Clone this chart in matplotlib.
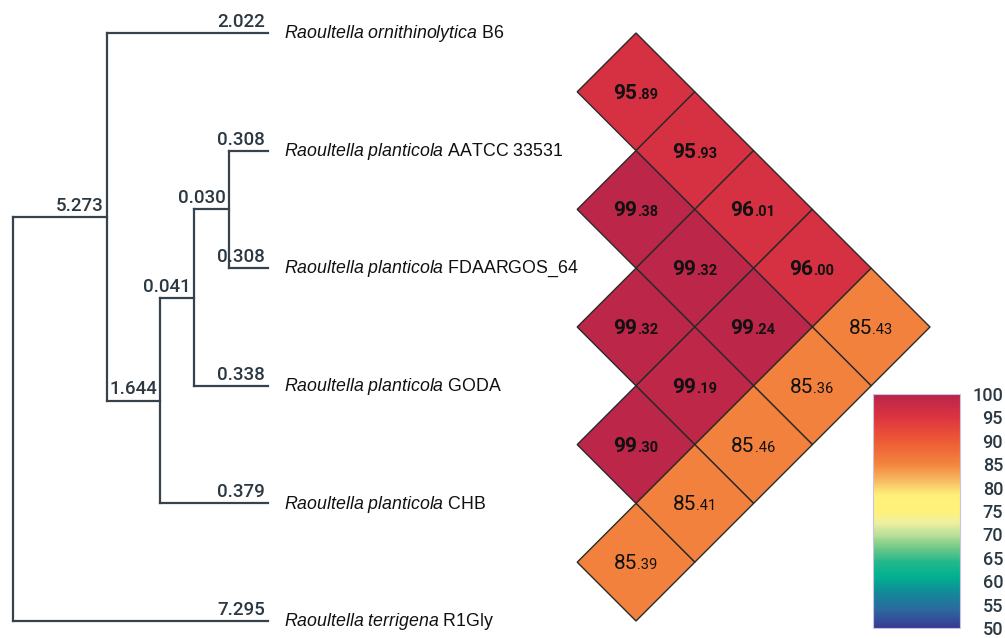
import numpy as np
import matplotlib
matplotlib.use("Agg")
import matplotlib.pyplot as plt
from matplotlib.patches import Polygon
from matplotlib.colors import LinearSegmentedColormap, Normalize
from matplotlib.cm import ScalarMappable

# taxa, top to bottom
species = ["Raoultella ornithinolytica", "Raoultella planticola", "Raoultella planticola",
           "Raoultella planticola", "Raoultella planticola", "Raoultella terrigena"]
strains = ["B6", "AATCC 33531", "FDAARGOS_64", "GODA", "CHB", "R1Gly"]

# tree topology (internal node -> children), tips are t0..t5
clades = {
    "root": ["n1", "t5"],
    "n1": ["t0", "n2"],
    "n2": ["n3", "t4"],
    "n3": ["n4", "t3"],
    "n4": ["t1", "t2"],
}
branch_len = {"n1": 5.273, "t0": 2.022, "n2": 1.644, "n3": 0.041, "n4": 0.030,
              "t1": 0.308, "t2": 0.308, "t3": 0.338, "t4": 0.379, "t5": 7.295}

# ANI upper triangle: row i = taxon i vs taxa i+1..5
ani = [
    [95.89, 95.93, 96.01, 96.00, 85.43],
    [99.38, 99.32, 99.24, 85.36],
    [99.32, 99.19, 85.46],
    [99.30, 85.41],
    [85.39],
]
cbar_ticks = [50, 55, 60, 65, 70, 75, 80, 85, 90, 95, 100]

# colormap
cmap_vals = [50, 54, 57.5, 61, 64, 67.5, 70, 72.5, 75, 78.5, 81, 85, 90, 95, 100]
cmap_cols = ["#3b3a94", "#2b6a9e", "#12899a", "#00b28f", "#22b78c", "#7acb88",
             "#bde09a", "#eef0a0", "#fff27a", "#fff07a", "#f9c266", "#f2853e",
             "#ee5a35", "#dd3440", "#b8244a"]
cmap = LinearSegmentedColormap.from_list(
    "ani", [((v - 50) / 50, c) for v, c in zip(cmap_vals, cmap_cols)])
norm = Normalize(50, 100)

plt.rcParams["mathtext.fontset"] = "custom"
plt.rcParams["mathtext.it"] = "Liberation Sans:italic"
plt.rcParams["mathtext.rm"] = "Liberation Sans"

fig = plt.figure(figsize=(10.05, 6.38), dpi=100)
ax = fig.add_axes([0, 0, 1, 1])
ax.set_xlim(0, 1005)
ax.set_ylim(638, 0)
ax.axis("off")

# layout (pixels)
y_top, dy = 33, 117.6
tip_x = 268
node_x = {"root": 13, "n1": 107, "n2": 160, "n3": 194, "n4": 229}
line_col = "#36434d"
num_col = "#2b3842"

pos = {}
for i in range(len(strains)):
    pos["t%d" % i] = (tip_x, y_top + i * dy)


def place(node):
    if node in pos:
        return pos[node][1]
    ys = [place(c) for c in clades[node]]
    pos[node] = (node_x[node], (min(ys) + max(ys)) / 2)
    return pos[node][1]


place("root")

for node, kids in clades.items():
    x, _ = pos[node]
    ys = [pos[k][1] for k in kids]
    ax.plot([x, x], [min(ys), max(ys)], color=line_col, lw=1.6, solid_capstyle="projecting")
    for k in kids:
        kx, ky = pos[k]
        ax.plot([x, kx], [ky, ky], color=line_col, lw=1.6, solid_capstyle="projecting")
        ax.text(kx - 3, ky - 2, "%.3f" % branch_len[k], ha="right", va="bottom",
                fontsize=13.5, family="Roboto", fontweight="medium", color=num_col)

# tip labels
for i, (sp, st) in enumerate(zip(species, strains)):
    sp_tex = sp.replace(" ", r"\ ")
    ax.text(284, pos["t%d" % i][1] + 1, r"$\mathit{%s}$ %s" % (sp_tex, st),
            ha="left", va="center", fontsize=12.8, family="Liberation Sans", color="#111111")

# rotated triangular heatmap
h = dy / 2
x0 = 636
for i, row in enumerate(ani):
    for k, v in enumerate(row):
        j = i + k + 1
        cx = x0 + k * h
        cy = (pos["t%d" % i][1] + pos["t%d" % j][1]) / 2
        ax.add_patch(Polygon([(cx - h, cy), (cx, cy - h), (cx + h, cy), (cx, cy + h)],
                             closed=True, facecolor=cmap(norm(v)), edgecolor="#2a2a2a", lw=1.0))
        whole, dec = ("%.2f" % v).split(".")
        wt = "bold" if v > 90 else "normal"
        ax.text(cx + 1, cy + 7, whole, ha="right", va="baseline", fontsize=15,
                family="Roboto", fontweight=wt, color="#111111")
        ax.text(cx + 1, cy + 7, "." + dec, ha="left", va="baseline", fontsize=10.5,
                family="Roboto", fontweight=wt, color="#111111")

# colour bar
cax = fig.add_axes([873 / 1005, 10 / 638, 87 / 1005, 234 / 638])
cb = fig.colorbar(ScalarMappable(norm=norm, cmap=cmap), cax=cax, ticks=cbar_ticks)
cb.outline.set_edgecolor("#c9c3dd")
cb.outline.set_linewidth(0.8)
cax.tick_params(length=0, pad=31, labelsize=13, labelcolor=num_col)
for lab in cax.get_yticklabels():
    lab.set_ha("right")
    lab.set_family("Roboto")
    lab.set_fontweight("medium")

fig.savefig("out.png", dpi=100)
